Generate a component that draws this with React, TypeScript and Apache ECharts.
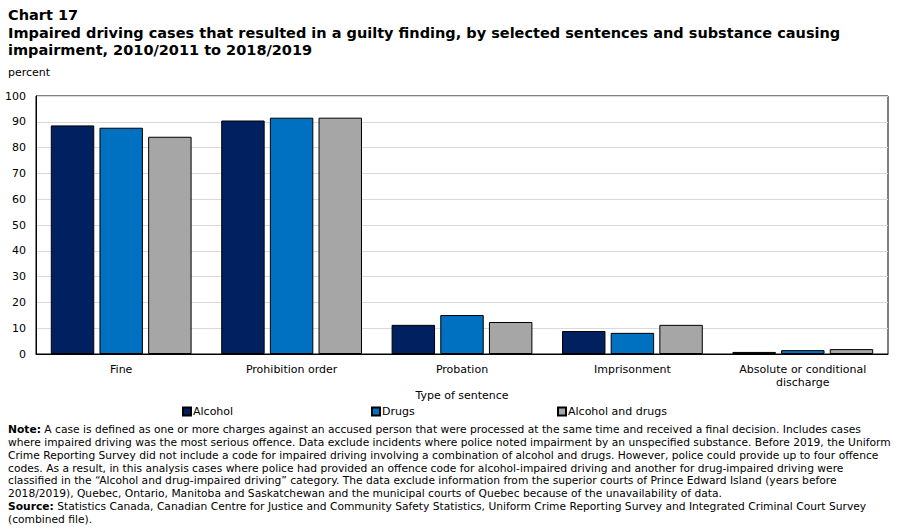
import React, { useEffect, useRef } from "react";
import * as echarts from "echarts";

const categories = [
  "Fine",
  "Prohibition order",
  "Probation",
  "Imprisonment",
  "Absolute or conditional\ndischarge",
];
const alcohol = [88.6, 90.5, 11.3, 8.9, 0.8];
const drugs = [87.7, 91.6, 15.1, 8.2, 1.5];
const alcoholAndDrugs = [84.2, 91.6, 12.4, 11.3, 1.9];
const seriesNames = ["Alcohol", "Drugs", "Alcohol and drugs"];
const seriesColors = ["#002060", "#0070C0", "#A6A6A6"];

const titleLines = [
  "Chart 17",
  "Impaired driving cases that resulted in a guilty finding, by selected sentences and substance causing",
  "impairment, 2010/2011 to 2018/2019",
];

const noteLines = [
  "{b|Note:} A case is defined as one or more charges against an accused person that were processed at the same time and received a final decision. Includes cases",
  "where impaired driving was the most serious offence. Data exclude incidents where police noted impairment by an unspecified substance. Before 2019, the Uniform",
  "Crime Reporting Survey did not include a code for impaired driving involving a combination of alcohol and drugs. However, police could provide up to four offence",
  "codes. As a result, in this analysis cases where police had provided an offence code for alcohol-impaired driving and another for drug-impaired driving were",
  "classified in the \u201CAlcohol and drug-impaired driving\u201D category. The data exclude information from the superior courts of Prince Edward Island (years before",
  "2018/2019), Quebec, Ontario, Manitoba and Saskatchewan and the municipal courts of Quebec because of the unavailability of data.",
  "{b|Source:} Statistics Canada, Canadian Centre for Justice and Community Safety Statistics, Uniform Crime Reporting Survey and Integrated Criminal Court Survey",
  "(combined file).",
];

const FONT = "DejaVu Sans, Verdana, sans-serif";

export default function App() {
  const ref = useRef<HTMLDivElement>(null);

  useEffect(() => {
    if (!ref.current) return;
    const chart = echarts.init(ref.current, undefined, { renderer: "svg" });

    const values = [alcohol, drugs, alcoholAndDrugs];
    const series = seriesNames.map((name, i) => ({
      name,
      type: "bar" as const,
      data: values[i],
      barWidth: "25.5%",
      barGap: "12%",
      itemStyle: { color: seriesColors[i], borderColor: "#000", borderWidth: 1 },
    }));

    const legendLefts = [182, 371, 557];
    const legends = seriesNames.map((name, i) => ({
      data: [name],
      left: legendLefts[i],
      top: 406,
      icon: "rect",
      itemWidth: 8,
      itemHeight: 8,
      itemGap: 2,
      padding: 0,
      textStyle: { fontFamily: FONT, fontSize: 11, color: "#000", padding: [0, 0, 0, -3] },
    }));

    const graphics: any[] = [];
    titleLines.forEach((t, i) => {
      graphics.push({
        type: "text",
        left: 8,
        top: [7, 25, 42][i],
        style: { text: t, font: `bold 14.5px ${FONT}`, fill: "#000" },
      });
    });
    graphics.push({
      type: "text",
      left: 8,
      top: 67,
      style: { text: "percent", font: `11px ${FONT}`, fill: "#000" },
    });
    noteLines.forEach((t, i) => {
      graphics.push({
        type: "text",
        left: 8,
        top: 424 + i * 12.85,
        style: {
          text: t,
          fontFamily: FONT,
          fontSize: 10.7,
          fill: "#000",
          rich: { b: { fontFamily: FONT, fontSize: 10.7, fontWeight: "bold", fill: "#000" } },
        },
      });
    });

    chart.setOption({
      animation: false,
      textStyle: { fontFamily: FONT },
      grid: {
        left: 36,
        right: 13,
        top: 96,
        bottom: 176,
        show: true,
        borderColor: "#000",
        borderWidth: 1,
      },
      legend: legends,
      xAxis: {
        type: "category",
        data: categories,
        name: "Type of sentence",
        nameLocation: "middle",
        nameGap: 31,
        nameTextStyle: { fontFamily: FONT, fontSize: 11, color: "#000" },
        axisLine: { lineStyle: { color: "#000", width: 1 } },
        axisTick: { show: false },
        axisLabel: { fontFamily: FONT, fontSize: 11, color: "#000", margin: 9, lineHeight: 13, interval: 0 },
      },
      yAxis: {
        type: "value",
        min: 0,
        max: 100,
        interval: 10,
        axisLine: { show: true, lineStyle: { color: "#000" } },
        axisTick: { show: false },
        axisLabel: { fontFamily: FONT, fontSize: 11, color: "#000", margin: 10 },
        splitLine: { lineStyle: { color: "#d9d9d9", width: 1 } },
      },
      series,
      graphic: graphics,
    });

    return () => chart.dispose();
  }, []);

  return <div ref={ref} style={{ width: 901, height: 530, position: "absolute", left: 0, top: 0 }} />;
}
